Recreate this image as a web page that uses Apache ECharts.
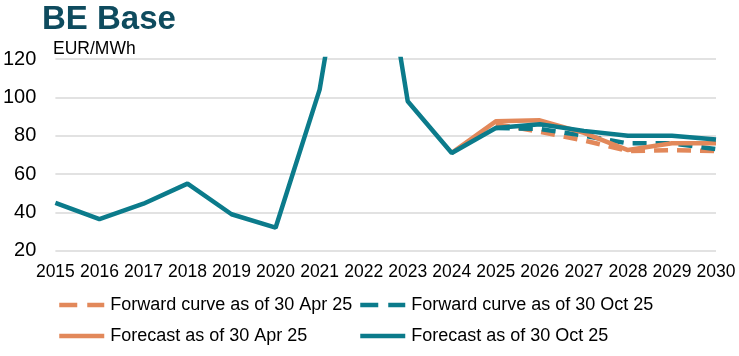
<!DOCTYPE html>
<html>
<head>
<meta charset="utf-8">
<script src="https://cdn.jsdelivr.net/npm/echarts@6/dist/echarts.min.js"></script>
<style>html,body{margin:0;padding:0;background:#fff}#c{width:739px;height:356px}</style>
</head>
<body>
<div id="c"></div>
<script>
const years = ['2015','2016','2017','2018','2019','2020','2021','2022','2023','2024','2025','2026','2027','2028','2029','2030'];
const yTicks = [20, 40, 60, 80, 100, 120];
const fwdApr = [null,null,null,null,null,null,null,null,null,null,86,82,77.5,72,72.5,72];
const fwdOct = [null,null,null,null,null,null,null,null,null,null,84,83.5,80,76,76,73];
const fcApr  = [null,null,null,null,null,null,null,null,null,71,87.5,88,81.5,72.5,76,76];
const fcOct  = [45,36.5,44.5,55,39,32,104,240,98,71,84,86,82.5,80,80,78];

const ORANGE = '#E2885A';
const TEAL = '#0B7B8B';
const FONT = 'Liberation Sans, Arial, sans-serif';

const chart = echarts.init(document.getElementById('c'));

function legend(name, left, top, dashed) {
  return {
    data: [{ name: name, itemStyle: { opacity: 0 },
             lineStyle: { width: 4.5, type: dashed ? [18, 10] : 'solid' } }],
    left: left, top: top, padding: 0,
    itemWidth: 45, itemHeight: 14,
    textStyle: { fontFamily: FONT, fontSize: 18, color: '#000', padding: [0,0,0,1] },
    selectedMode: false
  };
}

chart.setOption({
  animation: false,
  title: {
    text: 'BE Base', left: 42, top: 3, padding: 0,
    textStyle: { fontFamily: FONT, fontSize: 33, fontWeight: 'bold', color: '#0E4B5E' }
  },
  graphic: [{
    type: 'text', left: 53, top: 40,
    style: { text: 'EUR/MWh', fontFamily: FONT, fontSize: 17.5, fill: '#000' }
  }],
  legend: [
    legend('Forward curve as of 30 Apr 25', 57, 296, true),
    legend('Forward curve as of 30 Oct 25', 358, 296, true),
    legend('Forecast as of 30 Apr 25', 57, 327, false),
    legend('Forecast as of 30 Oct 25', 358, 327, false)
  ],
  grid: { left: 55, right: 23, top: 59, height: 191.7, containLabel: false },
  xAxis: {
    type: 'category', data: years, boundaryGap: false,
    axisLine: { show: false }, axisTick: { show: false },
    axisLabel: { fontFamily: FONT, fontSize: 17.5, color: '#000', margin: 12, interval: 0 }
  },
  yAxis: {
    type: 'value', min: 20, max: 120, interval: 20,
    axisLine: { show: false }, axisTick: { show: false },
    splitLine: { lineStyle: { color: '#D9D9D9', width: 1.5 } },
    axisLabel: { fontFamily: FONT, fontSize: 20, color: '#000', margin: 19,
      formatter: v => yTicks.includes(v) ? String(v) : '' }
  },
  series: [
    { name: 'Forward curve as of 30 Apr 25', type: 'line', data: fwdApr, symbol: 'none',
      lineStyle: { color: ORANGE, width: 4.5, type: [14, 9] }, itemStyle: { color: ORANGE } },
    { name: 'Forward curve as of 30 Oct 25', type: 'line', data: fwdOct, symbol: 'none',
      lineStyle: { color: TEAL, width: 4.5, type: [14, 9] }, itemStyle: { color: TEAL } },
    { name: 'Forecast as of 30 Apr 25', type: 'line', data: fcApr, symbol: 'none',
      lineStyle: { color: ORANGE, width: 4.5 }, itemStyle: { color: ORANGE } },
    { name: 'Forecast as of 30 Oct 25', type: 'line', data: fcOct, symbol: 'none',
      lineStyle: { color: TEAL, width: 4.5 }, itemStyle: { color: TEAL } }
  ]
});
</script>
</body>
</html>
